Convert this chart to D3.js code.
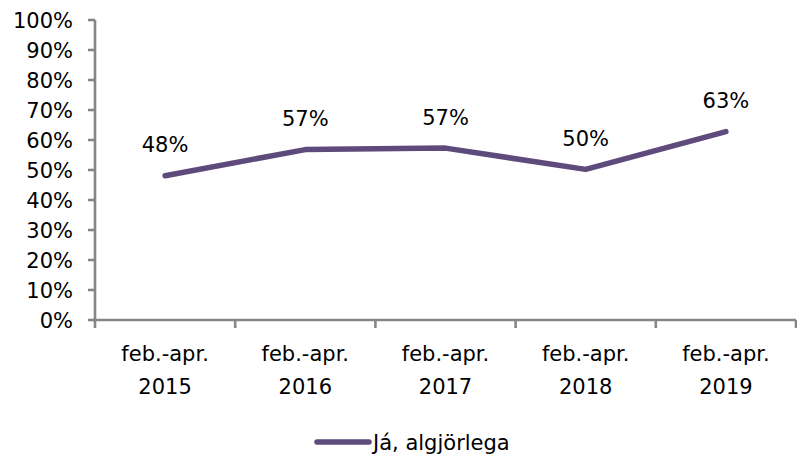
<!DOCTYPE html>
<html><head><meta charset="utf-8">
<script src="https://cdn.jsdelivr.net/npm/d3@7"></script>
<style>body{margin:0;background:#fff}svg{display:block}text{font-family:"DejaVu Sans",sans-serif;fill:#000}</style>
</head><body><svg id="c" width="797" height="457"></svg>
<script>
const categories = [["feb.-apr.","2015"],["feb.-apr.","2016"],["feb.-apr.","2017"],["feb.-apr.","2018"],["feb.-apr.","2019"]];
const values = [48.1, 56.8, 57.3, 50.2, 62.8];
const labels = ["48%","57%","57%","50%","63%"];
const yTicks = [0,10,20,30,40,50,60,70,80,90,100];
const seriesName = "Já, algjörlega";

const svg = d3.select("#c");
const x = d3.scaleBand().domain(d3.range(categories.length)).range([95, 796]);
const y = d3.scaleLinear().domain([0,100]).range([320, 20]);
const axisColor = "#868686", lineColor = "#5f4a7c", fs = 21;

// y axis
const ya = svg.append("g");
ya.append("line").attr("x1",95).attr("x2",95).attr("y1",y(0)).attr("y2",y(100)).attr("stroke",axisColor).attr("stroke-width",2.6);
yTicks.forEach(t=>{
  ya.append("line").attr("x1",88).attr("x2",95).attr("y1",y(t)).attr("y2",y(t)).attr("stroke",axisColor).attr("stroke-width",2.6);
  ya.append("text").attr("x",73).attr("y",y(t)).attr("dy","0.36em").attr("text-anchor","end").attr("font-size",fs).text(t+"%");
});
// x axis
const xa = svg.append("g");
xa.append("line").attr("x1",93.7).attr("x2",796).attr("y1",y(0)).attr("y2",y(0)).attr("stroke",axisColor).attr("stroke-width",2.6);
const bounds = d3.range(categories.length).map(i=>x(i)).concat([x.range()[1]]);
bounds.forEach(b=>{
  xa.append("line").attr("x1",b).attr("x2",b).attr("y1",y(0)).attr("y2",y(0)+8).attr("stroke",axisColor).attr("stroke-width",2.6);
});
categories.forEach((c,i)=>{
  const cx = x(i)+x.bandwidth()/2;
  xa.append("text").attr("x",cx).attr("y",361).attr("text-anchor","middle").attr("font-size",fs).text(c[0]);
  xa.append("text").attr("x",cx).attr("y",394).attr("text-anchor","middle").attr("font-size",fs).text(c[1]);
});
// line
const line = d3.line().x((d,i)=>x(i)+x.bandwidth()/2).y(d=>y(d));
svg.append("path").datum(values).attr("d",line).attr("fill","none").attr("stroke",lineColor).attr("stroke-width",5.5).attr("stroke-linecap","round").attr("stroke-linejoin","round");
// data labels
values.forEach((v,i)=>{
  svg.append("text").attr("x",x(i)+x.bandwidth()/2).attr("y",y(v)-31).attr("dy","0.36em").attr("text-anchor","middle").attr("font-size",fs).text(labels[i]);
});
// legend
svg.append("line").attr("x1",317).attr("x2",369).attr("y1",442).attr("y2",442).attr("stroke",lineColor).attr("stroke-width",5.5).attr("stroke-linecap","round");
svg.append("text").attr("x",373).attr("y",442).attr("dy","0.36em").attr("font-size",fs).text(seriesName);
</script></body></html>
